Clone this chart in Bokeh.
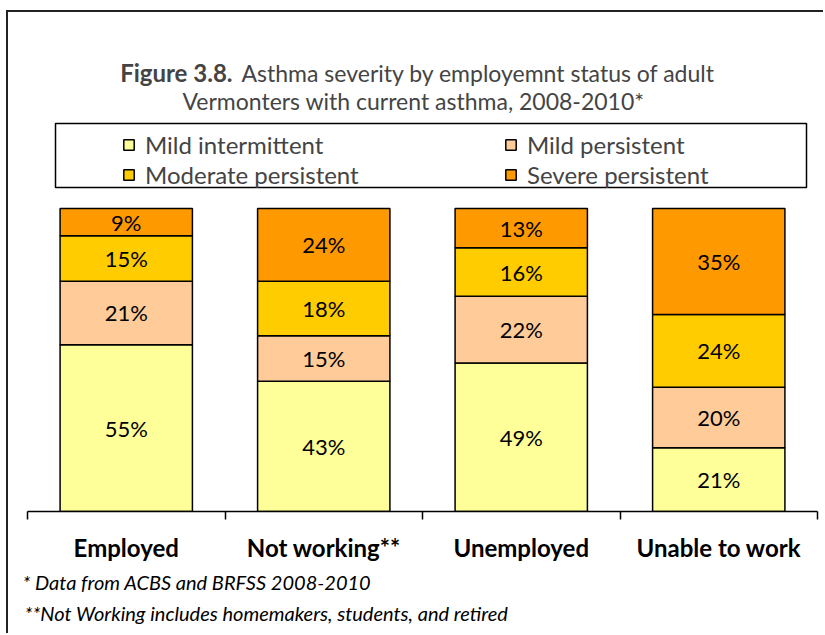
from bokeh.plotting import figure
from bokeh.models import (ColumnDataSource, Range1d, LinearAxis, Title,
                          FixedTicker, Legend, LegendItem, Label, BoxAnnotation)
from bokeh.core.properties import value
from bokeh.embed import file_html
from bokeh.resources import INLINE

categories = ["Employed", "Not working**", "Unemployed", "Unable to work"]
series_names = ["Mild intermittent", "Mild persistent", "Moderate persistent", "Severe persistent"]
mild_intermittent = [55, 43, 49, 21]
mild_persistent = [21, 15, 22, 20]
moderate_persistent = [15, 18, 16, 24]
severe_persistent = [9, 24, 13, 35]
colors = ["#FFFF99", "#FFCC99", "#FFCC00", "#FF9900"]

title_bold = "Figure 3.8."
title_rest = "Asthma severity by employemnt status of adult"
title_line2 = "Vermonters with current asthma, 2008-2010*"
footnote1 = "* Data from ACBS and BRFSS 2008-2010"
footnote2 = "**Not Working includes homemakers, students, and retired"

FONT = "Lato"

n = len(categories)
centers = [i + 0.5 for i in range(n)]

p = figure(x_range=Range1d(0, n), y_range=Range1d(0, 162),
           width=817, height=623, output_backend="svg", toolbar_location=None,
           x_axis_location=None, y_axis_location=None,
           min_border_left=19, min_border_right=8, min_border_top=8, min_border_bottom=124)
p.styles = {"border-top": "2px solid #222222", "border-left": "2px solid #222222",
            "margin-left": "6px", "margin-top": "10px"}
p.xgrid.visible = False
p.ygrid.visible = False
p.outline_line_color = None
p.background_fill_color = "white"
p.border_fill_color = "white"

all_series = [mild_intermittent, mild_persistent, moderate_persistent, severe_persistent]
renderers = []
cum = [0] * n
label_x, label_y, label_t = [], [], []
for name, vals, col in zip(series_names, all_series, colors):
    bottoms = list(cum)
    tops = [b + v for b, v in zip(bottoms, vals)]
    src = ColumnDataSource(dict(x=centers, bottom=bottoms, top=tops))
    r = p.vbar(x="x", bottom="bottom", top="top", width=0.67, source=src,
               fill_color=col, line_color="black", line_width=1.5)
    renderers.append(r)
    for c, b, v in zip(centers, bottoms, vals):
        label_x.append(c)
        label_y.append(b + v / 2)
        label_t.append(f"{v}%")
    cum = tops

lab_src = ColumnDataSource(dict(x=label_x, y=label_y, t=label_t))
p.text(x="x", y="y", text="t", source=lab_src, text_align="center", text_baseline="middle",
       text_font=value(FONT), text_font_size="22px", text_color="black")

# Axis line with ticks at category boundaries (no labels)
tick_axis = LinearAxis(ticker=FixedTicker(ticks=list(range(n + 1))),
                       major_tick_in=0, major_tick_out=8, major_tick_line_width=1.5,
                       axis_line_width=1.5, axis_line_color="black", major_tick_line_color="black",
                       minor_tick_line_color=None, major_label_text_font_size="0px",
                       major_label_text_color=None, major_label_standoff=0)
p.add_layout(tick_axis, "below")
# Category labels
cat_axis = LinearAxis(ticker=FixedTicker(ticks=centers),
                      major_label_overrides={c: name for c, name in zip(centers, categories)},
                      axis_line_color=None, major_tick_line_color=None, minor_tick_line_color=None,
                      major_label_text_font=FONT, major_label_text_font_size="24px",
                      major_label_text_font_style="bold", major_label_text_color="black",
                      major_label_standoff=7)
p.add_layout(cat_axis, "below")

# Footnotes
p.add_layout(Title(text=footnote1, align="left", offset=-5, standoff=6,
                   text_font=FONT, text_font_style="italic", text_font_size="20px",
                   text_color="black"), "below")
p.add_layout(Title(text=footnote2, align="left", offset=-3, standoff=4,
                   text_font=FONT, text_font_style="italic", text_font_size="20px",
                   text_color="black"), "below")

# Legend (two columns inside a box)
leg_common = dict(border_line_color=None, background_fill_alpha=0, padding=4, spacing=1,
                  glyph_width=13, glyph_height=13, label_height=29, label_standoff=10,
                  label_text_font=FONT, label_text_font_size="24px", margin=0)
leg1 = Legend(items=[LegendItem(label=series_names[0], renderers=[renderers[0]]),
                     LegendItem(label=series_names[2], renderers=[renderers[2]])],
              location=(95, 322), **leg_common)
leg2 = Legend(items=[LegendItem(label=series_names[1], renderers=[renderers[1]]),
                     LegendItem(label=series_names[3], renderers=[renderers[3]])],
              location=(477, 322), **leg_common)
p.add_layout(leg1)
p.add_layout(leg2)
p.add_layout(BoxAnnotation(left=28, right=779, bottom=324, top=388,
                           left_units="screen", right_units="screen",
                           bottom_units="screen", top_units="screen",
                           fill_color=None, fill_alpha=0, line_color="black",
                           line_alpha=1.0, line_width=1.5))

# Title
p.add_layout(Label(x=205, y=439, x_units="screen", y_units="screen", text=title_bold,
                   text_font=FONT, text_font_style="bold", text_font_size="24px",
                   text_align="right", text_baseline="middle"))
p.add_layout(Label(x=214, y=439, x_units="screen", y_units="screen", text=title_rest,
                   text_font=FONT, text_font_size="23px",
                   text_align="left", text_baseline="middle"))
p.add_layout(Label(x=386, y=411, x_units="screen", y_units="screen", text=title_line2,
                   text_font=FONT, text_font_size="23px",
                   text_align="center", text_baseline="middle"))

open("out.html", "w").write(file_html(p, INLINE))
